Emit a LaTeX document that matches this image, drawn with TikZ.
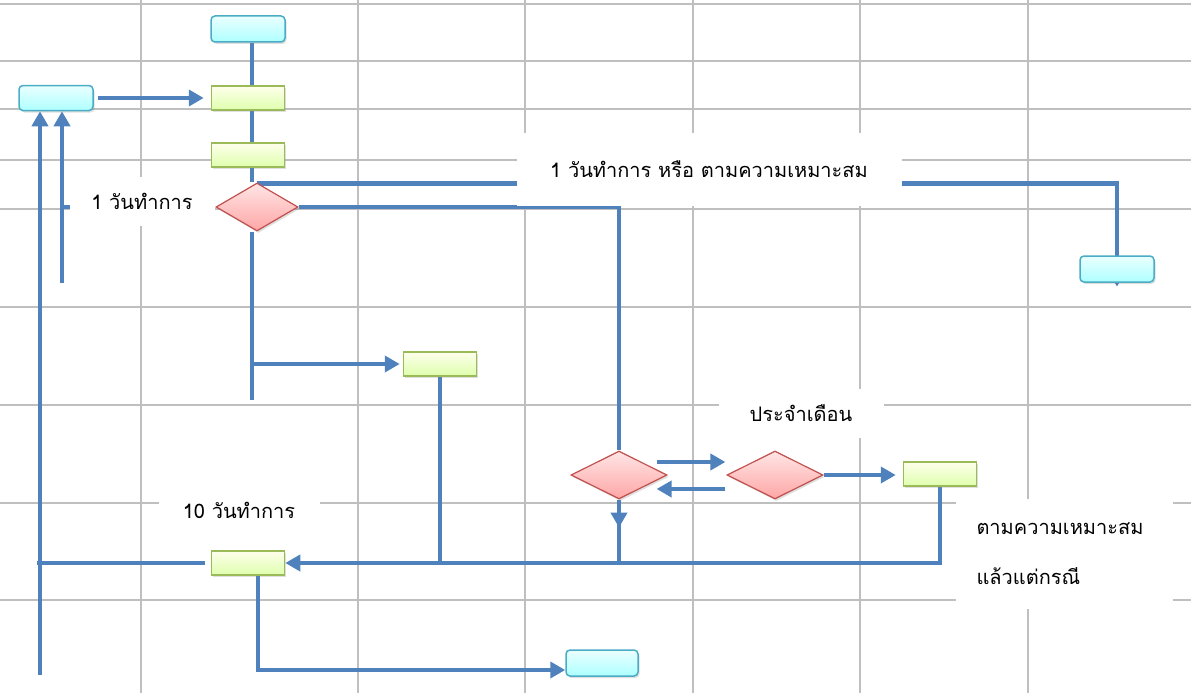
\documentclass[tikz,border=0pt]{standalone}
\usepackage{fontspec}
\newfontfamily\thaifont[Script=Thai]{Loma}
\usetikzlibrary{calc,shapes.geometric,arrows.meta,shadows}
\pgfdeclarelayer{grid}
\pgfdeclarelayer{wires}
\pgfsetlayers{grid,wires,main}
\definecolor{wireblue}{HTML}{4F81BD}
\definecolor{termline}{HTML}{4BACC6}
\definecolor{procline}{HTML}{9BBB59}
\definecolor{askline}{HTML}{C0504D}
\begin{document}
\begin{tikzpicture}[
        x=1pt,y=-1pt
        ,cell/.style={draw=gray!50,line width=2pt}
        ,wire/.style={draw=wireblue,line width=4.5pt}
        ,>={Triangle[length=15pt,width=16pt]}
        ,boxshadow/.style={drop shadow={shadow xshift=1.5pt,shadow yshift=-2pt,opacity=0.25}}
        ,term/.style={boxshadow,draw=termline,line width=1.5pt,rounded corners=4pt
            ,top color=cyan!8,bottom color=cyan!32,minimum width=74pt,minimum height=26pt}
        ,proc/.style={boxshadow,draw=procline,line width=1.5pt
            ,top color=green!5!yellow!8,bottom color=green!40!yellow!32,minimum width=73pt,minimum height=24pt}
        ,ask/.style={boxshadow,diamond,draw=askline,line width=1.2pt,inner sep=0pt
            ,top color=red!10,bottom color=red!35,minimum width=82pt,minimum height=48pt}
        ,note/.style={fill=white,inner sep=0pt,font=\thaifont\fontsize{20}{24}\selectfont}
    ]
    \useasboundingbox (0,0) rectangle (1191,693);
    % Сетка
    \begin{pgfonlayer}{grid}
        \foreach \gx in {141,358,525,693,860,1028}
            \draw[cell] (\gx,0) -- (\gx,693);
        \foreach \gy in {4,61,109,160,209,307,405,503,600}
            \draw[cell] (0,\gy) -- (1191,\gy);
    \end{pgfonlayer}
    % Блоки
    \node[term] (start) at (248,29) {};
    \node[term,minimum height=25pt] (src) at (56,98) {};
    \node[proc] (chkA) at (248,98) {};
    \node[proc] (chkB) at (248,155) {};
    \node[ask] (askA) at (257,207) {};
    \node[term] (done) at (1117,269) {};
    \node[proc] (revw) at (440,364) {};
    \node[ask,minimum width=96pt] (askB) at (619,475) {};
    \node[ask,minimum width=96pt] (askC) at (775,475) {};
    \node[proc] (rept) at (940,474) {};
    \node[proc] (sendA) at (248,563) {};
    \node[term,minimum width=72pt] (endB) at (602,663) {};
    \coordinate (spine) at (252,400);
    \coordinate (foot) at (40,675);
    \coordinate (loop) at (62,283);
    % Надписи
    \node[note,minimum width=145pt,minimum height=49pt] (noteA) at (142,201) {1 วันทำการ};
    \node[note,minimum width=385pt,minimum height=73pt] (noteB) at (709,169) {1 วันทำการ หรือ ตามความเหมาะสม};
    \node[note,minimum width=165pt,minimum height=49pt] (noteC) at (801,413) {ประจำเดือน};
    \node[note,minimum width=161pt,minimum height=50pt] (noteD) at (239,510) {10 วันทำการ};
    \node[note,minimum width=217pt,minimum height=110pt,inner xsep=21pt,text width=175pt,align=left
        ,font=\thaifont\fontsize{20}{50}\selectfont] (noteE) at (1064,554) {ตามความเหมาะสม\\แล้วแต่กรณี};
    % Связи
    \begin{pgfonlayer}{wires}
        \draw[wire] (start.south -| spine) -- (chkA.north -| spine);
        \draw[wire,->,shorten <=4pt,shorten >=7pt] (src.east) -- (chkA.west);
        \draw[wire] (chkA.south -| spine) -- (chkB.north -| spine);
        \draw[wire] (chkB.south -| spine) -- (askA.north -| spine);
        \draw[wire,->] ([yshift=-1pt]askA.north) -| ([yshift=-4pt]done.south);
        \draw[wire] (askA.east) -| (askB.north);
        \draw[wire] (askA.south -| spine) -- (spine);
        \draw[wire,->,shorten >=3pt] (spine |- revw) -- (revw.west);
        \draw[wire] (revw.south) -- (revw.south |- sendA);
        \draw[wire,->] (rept.south) |- (sendA.east);
        \draw[wire] (askB.south) -- (askB.south |- sendA);
        \draw[wire,->] (askB.south) -- ++(0,28);
        \draw[wire,->] ($(askB.east)+(-11,-13)$) -- ($(askC.west)+(-1,-13)$);
        \draw[wire,->] ($(askC.west)+(-1,14)$) -- ($(askB.east)+(-11,14)$);
        \draw[wire,->,shorten >=7pt] (askC.east) -- (askC.east -| rept.west);
        \draw[wire,shorten <=6pt] (sendA.west) -- ([xshift=-3pt]sendA.west -| foot);
        \draw[wire,->] (foot) -- (foot |- src.south);
        \draw[wire,->] (loop) -- (loop |- src.south);
        \draw[wire] (askA.west) -- (askA.west -| loop);
        \draw[wire,->] ([xshift=10pt]sendA.south) |- ([yshift=-7pt]endB.west);
    \end{pgfonlayer}
\end{tikzpicture}
\end{document}
